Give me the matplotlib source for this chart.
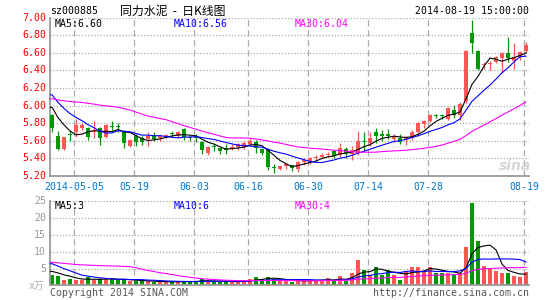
import matplotlib
matplotlib.use("Agg")
import matplotlib.pyplot as plt
import numpy as np
import pandas as pd

W, H = 545, 300

# trading days on the chart (exchange holidays removed)
days = pd.bdate_range("2014-04-25", "2014-08-19")
days = days.drop(pd.to_datetime(["2014-05-01", "2014-05-02", "2014-06-02"]))

tick_dates = ["2014-05-05", "2014-05-19", "2014-06-03", "2014-06-16",
              "2014-06-30", "2014-07-14", "2014-07-28", "2014-08-19"]
tick_labels = ["2014-05-05", "05-19", "06-03", "06-16",
               "06-30", "07-14", "07-28", "08-19"]

opens = [5.89, 5.65, 5.51, 5.68, 5.70, 5.74, 5.74, 5.70, 5.74, 5.64,
         5.77, 5.77, 5.70, 5.54, 5.65, 5.63, 5.62, 5.67, 5.63, 5.65,
         5.69, 5.65, 5.73, 5.64, 5.64, 5.59, 5.46, 5.54, 5.52, 5.52,
         5.52, 5.53, 5.53, 5.56, 5.59, 5.51, 5.49, 5.30, 5.28, 5.31,
         5.32, 5.28, 5.36, 5.37, 5.40, 5.42, 5.44, 5.48, 5.44, 5.51,
         5.45, 5.46, 5.60, 5.57, 5.70, 5.67, 5.67, 5.62, 5.63, 5.61,
         5.63, 5.70, 5.79, 5.82, 5.89, 5.89, 5.85, 5.95, 5.89, 6.05,
         6.83, 6.62, 6.46, 6.47, 6.50, 6.54, 6.60, 6.51, 6.55, 6.62]
highs = [5.90, 5.71, 5.64, 5.71, 5.85, 5.80, 5.76, 5.82, 5.76, 5.79,
         5.83, 5.80, 5.72, 5.62, 5.68, 5.66, 5.70, 5.70, 5.67, 5.68,
         5.71, 5.71, 5.74, 5.66, 5.68, 5.60, 5.54, 5.58, 5.53, 5.56,
         5.56, 5.57, 5.60, 5.63, 5.61, 5.52, 5.49, 5.34, 5.31, 5.35,
         5.33, 5.37, 5.40, 5.42, 5.44, 5.46, 5.47, 5.49, 5.57, 5.53,
         5.54, 5.71, 5.70, 5.70, 5.75, 5.72, 5.73, 5.68, 5.68, 5.66,
         5.72, 5.81, 5.84, 5.91, 5.91, 5.91, 5.98, 6.01, 6.04, 6.63,
         6.97, 6.63, 6.50, 6.51, 6.56, 6.61, 6.78, 6.71, 6.62, 6.72]
lows = [5.70, 5.49, 5.50, 5.60, 5.64, 5.72, 5.61, 5.63, 5.55, 5.63,
        5.71, 5.70, 5.52, 5.53, 5.54, 5.55, 5.54, 5.60, 5.60, 5.63,
        5.64, 5.63, 5.61, 5.60, 5.59, 5.45, 5.44, 5.48, 5.45, 5.45,
        5.50, 5.50, 5.51, 5.54, 5.46, 5.44, 5.27, 5.23, 5.27, 5.28,
        5.26, 5.25, 5.33, 5.34, 5.37, 5.40, 5.42, 5.41, 5.42, 5.41,
        5.38, 5.44, 5.48, 5.54, 5.57, 5.60, 5.62, 5.59, 5.56, 5.55,
        5.61, 5.66, 5.74, 5.81, 5.86, 5.85, 5.84, 5.86, 5.84, 6.03,
        6.60, 6.41, 6.42, 6.41, 6.48, 6.37, 6.50, 6.42, 6.52, 6.60]
closes = [5.74, 5.51, 5.64, 5.67, 5.78, 5.78, 5.64, 5.71, 5.63, 5.78,
          5.76, 5.76, 5.57, 5.61, 5.59, 5.59, 5.65, 5.62, 5.66, 5.67,
          5.68, 5.70, 5.64, 5.63, 5.63, 5.49, 5.53, 5.53, 5.48, 5.49,
          5.53, 5.56, 5.58, 5.60, 5.52, 5.46, 5.30, 5.29, 5.31, 5.34,
          5.29, 5.36, 5.38, 5.40, 5.42, 5.44, 5.45, 5.43, 5.52, 5.46,
          5.50, 5.60, 5.59, 5.63, 5.66, 5.66, 5.66, 5.65, 5.59, 5.63,
          5.70, 5.80, 5.83, 5.89, 5.88, 5.88, 5.97, 5.89, 6.02, 6.62,
          6.71, 6.42, 6.47, 6.48, 6.55, 6.60, 6.54, 6.55, 6.61, 6.69]
volume = [3.2, 2.7, 1.7, 2.0, 1.5, 1.5, 2.4, 1.7, 1.9, 2.0,
          1.8, 1.6, 1.7, 1.3, 1.4, 1.2, 1.2, 1.1, 1.0, 1.0,
          1.0, 1.2, 1.3, 1.1, 1.2, 1.9, 1.3, 1.1, 1.0, 1.2,
          1.1, 1.2, 1.4, 1.9, 2.4, 2.0, 2.4, 2.0, 1.2, 1.2,
          1.1, 1.7, 1.5, 1.5, 1.5, 1.6, 2.2, 1.3, 2.7, 1.3,
          3.8, 7.4, 4.6, 3.2, 5.4, 3.2, 4.6, 3.0, 1.7, 4.4,
          5.4, 5.4, 4.4, 5.4, 3.6, 3.6, 3.8, 3.4, 3.6, 11.5,
          24.5, 13.0, 5.8, 4.8, 4.4, 3.6, 3.6, 2.9, 2.4, 4.1]

# days before the window, only used to start the moving averages
pre_close = [5.95, 5.92, 5.90, 5.93, 5.96, 5.94, 5.97, 5.99, 6.00, 5.98,
             6.02, 6.05, 6.10, 6.28, 6.30, 6.25, 6.10, 6.05, 6.08, 6.35,
             6.38, 6.32, 6.25, 6.22, 6.15, 6.10, 6.05, 6.02, 5.99]
pre_volume = [7.0, 7.5, 6.5, 7.0, 4.5, 4.0, 4.5, 4.0, 3.5, 3.2,
              3.5, 3.4, 3.3, 12.0, 14.0, 13.0, 10.0, 11.0, 9.0, 10.0,
              10.0, 9.0, 8.5, 8.0, 8.0, 5.0, 4.5, 4.0, 4.0]

price_ticks = [5.20, 5.40, 5.60, 5.80, 6.00, 6.20, 6.40, 6.60, 6.80, 7.00]
vol_ticks = [5, 10, 15, 20, 25]

price_ma_text = ["MA5:6.60", "MA10:6.56", "MA30:6.04"]
vol_ma_text = ["MA5:3", "MA10:6", "MA30:4"]

RED = "#ff5555"
GREEN = "#009900"
MA_COLORS = ["black", "#0000ff", "#ff00ff"]
MONO = "DejaVu Sans Mono"


def ma(pre, vals, n):
    s = pd.Series(list(pre) + list(vals)).rolling(n).mean()
    return s.values[len(pre):]


def fx(x):
    return x / W


def fy(y):
    return 1 - y / H


o = np.array(opens)
c = np.array(closes)
x = np.arange(len(days))
up = c >= o
colors = np.where(up, RED, GREEN)
tick_pos = [days.get_loc(pd.Timestamp(d)) for d in tick_dates]

fig = plt.figure(figsize=(W / 100, H / 100), dpi=100)
ax1 = fig.add_axes([fx(50), fy(176), fx(479), (176 - 17.6) / H])
ax2 = fig.add_axes([fx(50), fy(285.4), fx(479), (285.4 - 200.9) / H])

for ax in (ax1, ax2):
    ax.set_xlim(-0.35, 79.5)
    for s in ("top", "right"):
        ax.spines[s].set_visible(False)
    for s in ("left", "bottom"):
        ax.spines[s].set_color("#999999")
        ax.spines[s].set_linewidth(1.3)
    ax.set_xticks([])
    ax.set_yticks([])
    for p in tick_pos:
        ax.axvline(p - 0.3, color="#aaaaaa", lw=0.9, ls=(0, (5, 3)), zorder=0)

# price panel
ax1.set_ylim(5.20, 7.00)
for t in price_ticks[1:]:
    ax1.axhline(t, color="#aaaaaa", lw=0.9, ls=(0, (1, 1.5)), zorder=0)
ax1.vlines(x, lows, highs, colors=colors, lw=0.9, zorder=2)
body = np.maximum(np.abs(c - o), 0.012)
ax1.bar(x, body, bottom=np.minimum(o, c), width=0.78, color=colors, lw=0, zorder=3)
for n, col in zip([5, 10, 30], MA_COLORS):
    m = ma(pre_close, closes, n)
    ax1.plot(np.r_[-0.35, x], np.r_[m[0], m], color=col, lw=0.8, zorder=4)

# volume panel
ax2.set_ylim(0, 25)
for t in vol_ticks:
    ax2.axhline(t, color="#aaaaaa", lw=0.9, ls=(0, (1, 1.5)), zorder=0)
ax2.bar(x, volume, width=0.78, color=colors, lw=0, zorder=2)
for n, col in zip([5, 10, 30], MA_COLORS):
    m = ma(pre_volume, volume, n)
    ax2.plot(np.r_[-0.35, x], np.r_[m[0], m], color=col, lw=0.8, zorder=4)

# axis labels
for t in price_ticks:
    y = 17.6 + (7.00 - t) * 88
    fig.text(fx(46), fy(y), f"{t:.2f}", color="#ff0000", fontsize=7.1,
             family=MONO, ha="right", va="center")
for t in vol_ticks:
    y = 285.4 - t * 3.38
    fig.text(fx(46), fy(y), str(t), color="#999999", fontsize=7.1,
             family=MONO, ha="right", va="center")
fig.text(fx(44), fy(286), "x万", color="#aaaaaa", fontsize=7,
         family=[MONO, "Noto Sans CJK SC"], ha="right", va="center")
for p, lab in zip(tick_pos, tick_labels):
    fig.text(fx(52 + 6 * p - 2), fy(187.5), lab, color="#0077cc", fontsize=7.1,
             family=MONO, ha="center", va="center")

# header and moving average legends
fig.text(fx(50), fy(11.5), "sz000885", fontsize=7.1, family=MONO, va="center")
fig.text(fx(120), fy(11), "同力水泥  -  日K线图", fontsize=8.6,
         family=["Noto Sans CJK SC", "DejaVu Sans"], va="center")
fig.text(fx(529), fy(11.5), "2014-08-19 15:00:00", fontsize=7.1, family=MONO,
         ha="right", va="center")
for txt, col, xp in zip(price_ma_text, MA_COLORS, [55, 174, 295]):
    fig.text(fx(xp), fy(24), txt, color=col, fontsize=7.1, family=MONO, va="center")
for txt, col, xp in zip(vol_ma_text, MA_COLORS, [55, 174, 295]):
    fig.text(fx(xp), fy(206), txt, color=col, fontsize=7.1, family=MONO, va="center")

# footer and watermark
fig.text(fx(50), fy(293), "Copyright 2014 SINA.COM", color="#555555", fontsize=7.1,
         family=MONO, va="center")
fig.text(fx(529), fy(293), "http://finance.sina.com.cn", color="#555555", fontsize=7.1,
         family=MONO, ha="right", va="center")
fig.text(fx(515), fy(166), "sina", color="#cccccc", fontsize=10, fontweight="bold",
         style="italic", ha="center", va="center", alpha=0.8)

fig.savefig("out.png", dpi=100)
